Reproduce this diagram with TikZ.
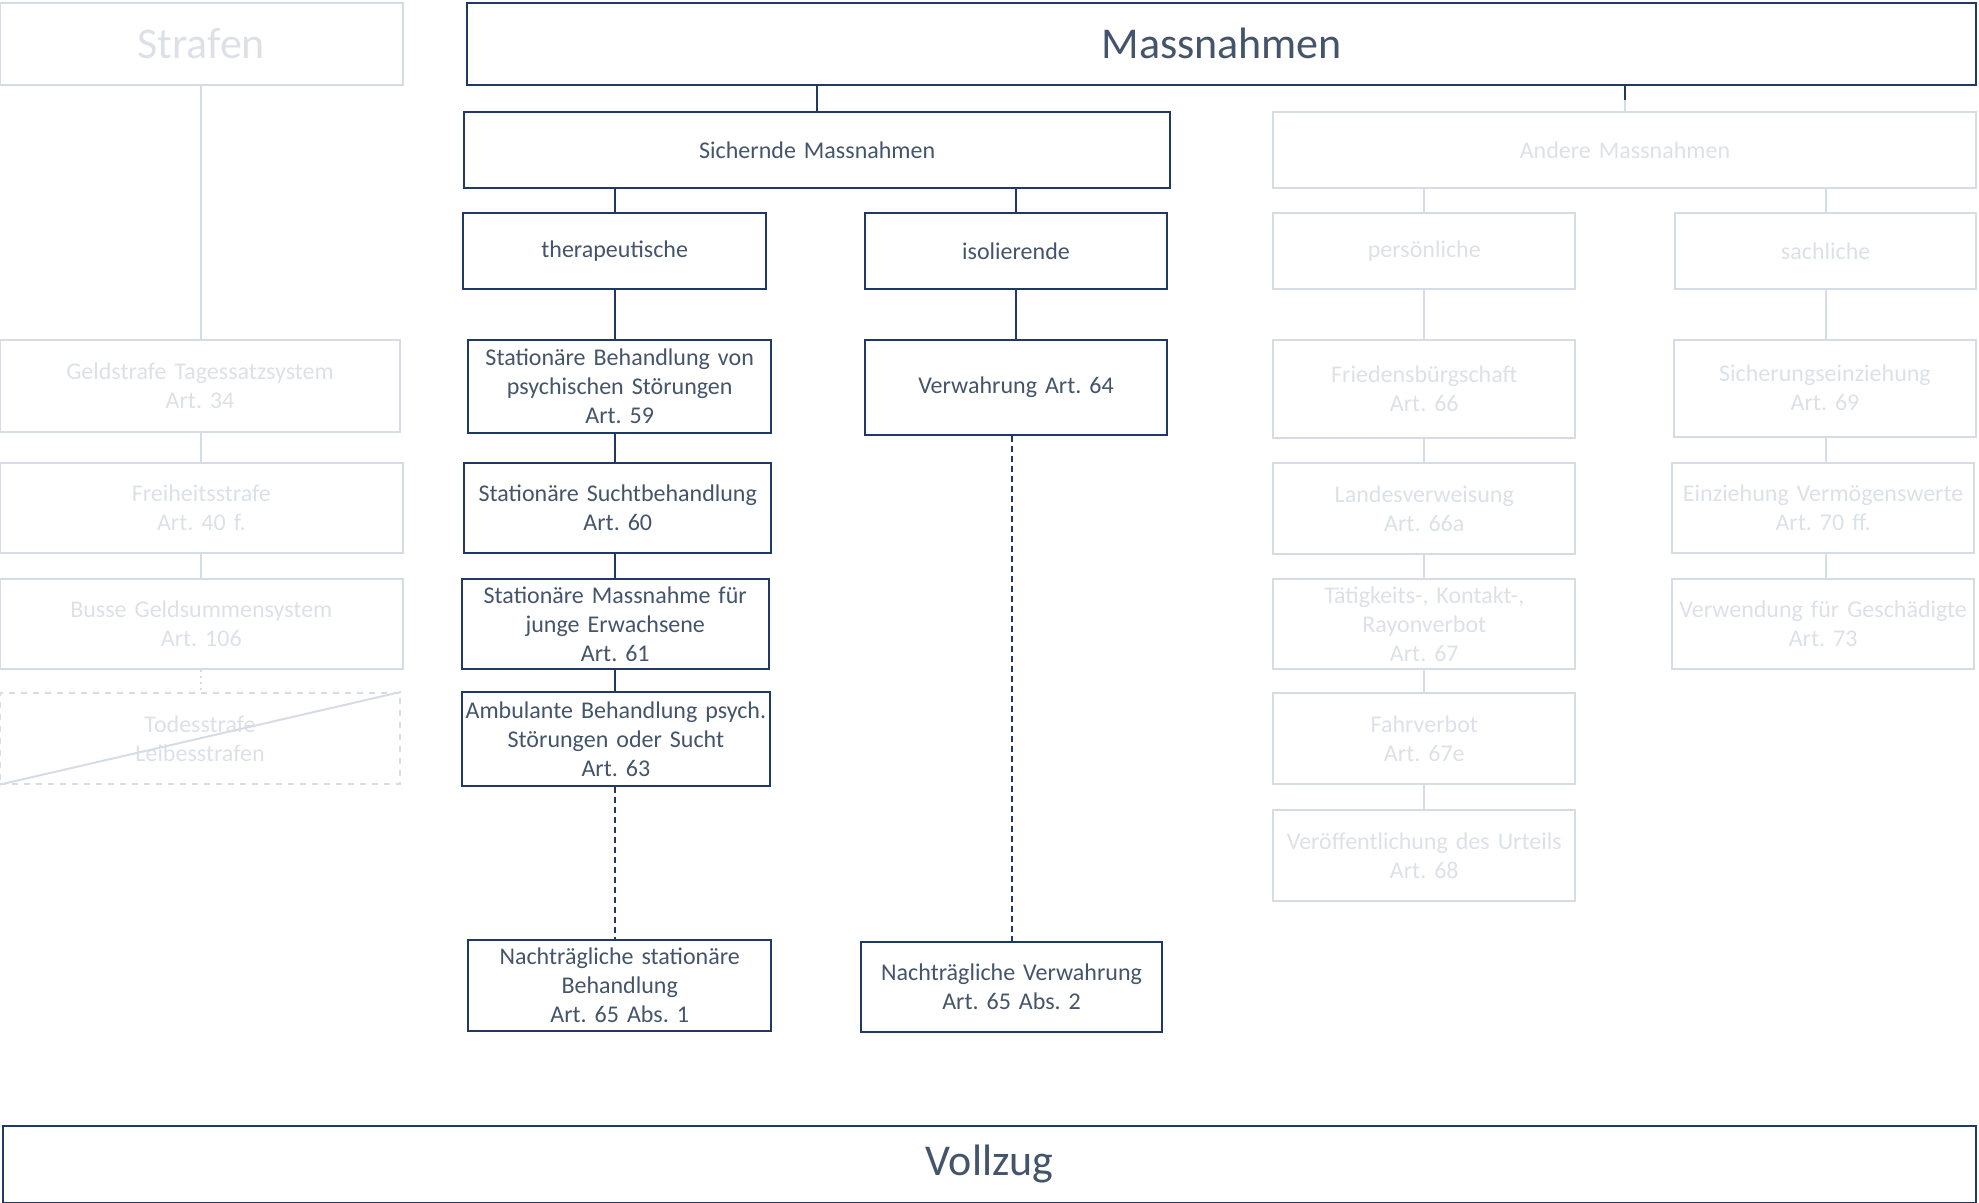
\documentclass[tikz,border=0pt]{standalone}
\usepackage{fontspec}
\setmainfont{Carlito}
\frenchspacing
\definecolor{navy}{HTML}{1F3864}
\definecolor{slate}{HTML}{44546A}
\definecolor{mist}{HTML}{D6DCE5}
\definecolor{fog}{HTML}{DCE1E8}
\newdimen\pxu \pxu=0.631pt
\begin{document}
\begin{tikzpicture}[x=0.631pt,y=-0.631pt,
  box/.style={draw, line width=1pt, inner sep=0pt, align=center, font=\fontsize{12}{14.5}\selectfont},
  dark/.style={box, draw=navy, text=slate},
  pale/.style={box, draw=mist, text=fog},
  big/.style={font=\fontsize{22}{26}\selectfont},
  wh/.style 2 args={text width=#1\pxu, minimum height=#2\pxu},
  link/.style={navy, line width=1pt},
  dashlink/.style={link, dash pattern=on 3pt off 2pt},
  palelink/.style={mist, line width=1pt}]
\useasboundingbox (0,0) rectangle (1568,953);

\node[pale,big,wh={319}{65}] (straf) at (159.5,34.5) {Strafen};
\node[dark,big,wh={1196}{65}] (mass) at (968,34.5) {Massnahmen};
\node[dark,wh={559}{60}] (sich) at (647.5,119) {Sichernde Massnahmen};
\node[pale,wh={557}{60}] (andere) at (1287.5,119) {Andere Massnahmen};

\node[dark,wh={240}{60}] (ther) at (487,199) {therapeutische};
\node[dark,wh={240}{60}] (iso) at (805,199) {isolierende};
\node[pale,wh={239}{60}] (pers) at (1128.5,199) {persönliche};
\node[pale,wh={239}{60}] (sach) at (1446.5,199) {sachliche};

\node[dark,wh={240}{74}] (s59) at (491,306) {Stationäre Behandlung von\\psychischen Störungen\\Art. 59};
\node[dark,wh={243}{71}] (s60) at (489.5,402.5) {Stationäre Suchtbehandlung\\Art. 60};
\node[dark,wh={243}{71}] (s61) at (487.5,494.5) {Stationäre Massnahme für\\junge Erwachsene\\Art. 61};
\node[dark,wh={244}{75}] (s63) at (488,585.5) {Ambulante Behandlung psych.\\Störungen oder Sucht\\Art. 63};
\node[dark,wh={240}{72}] (s65a) at (491,781) {Nachträgliche stationäre\\Behandlung\\Art. 65 Abs. 1};
\node[dark,wh={240}{76}] (s64) at (805,307) {Verwahrung Art. 64};
\node[dark,wh={239}{72}] (s65b) at (801.5,782) {Nachträgliche Verwahrung\\Art. 65 Abs. 2};

\node[pale,wh={317}{73}] (geld) at (158.5,305.5) {Geldstrafe Tagessatzsystem\\Art. 34};
\node[pale,wh={319}{71}] (frei) at (159.5,402.5) {Freiheitsstrafe\\Art. 40 f.};
\node[pale,wh={319}{71}] (busse) at (159.5,494.5) {Busse Geldsummensystem\\Art. 106};
\node[pale,wh={317}{72},dashed] (todes) at (158.5,585) {Todesstrafe\\Leibesstrafen};

\node[pale,wh={239}{78}] (fried) at (1128.5,308) {Friedensbürgschaft\\Art. 66};
\node[pale,wh={239}{72}] (landes) at (1128.5,403) {Landesverweisung\\Art. 66a};
\node[pale,wh={239}{71}] (taet) at (1128.5,494.5) {Tätigkeits-, Kontakt-,\\Rayonverbot\\Art. 67};
\node[pale,wh={239}{72}] (fahr) at (1128.5,585) {Fahrverbot\\Art. 67e};
\node[pale,wh={239}{72}] (veroeff) at (1128.5,678) {Veröffentlichung des Urteils\\Art. 68};
\node[pale,wh={240}{77}] (sicher) at (1446,307.5) {Sicherungseinziehung\\Art. 69};
\node[pale,wh={239}{71}] (einz) at (1444.5,402.5) {Einziehung Vermögenswerte\\Art. 70 ff.};
\node[pale,wh={239}{71}] (verw) at (1444.5,494.5) {Verwendung für Geschädigte\\Art. 73};

\node[dark,big,wh={1564}{61}] (vollzug) at (784,922.5) {Vollzug};

\draw[link] (sich.north) -- (sich.north |- mass.south);
\coordinate (brk) at (1287.5,79);
\draw[link] (brk |- mass.south) -- (brk);
\draw[palelink] (brk) -- (andere.north);
\draw[link] (ther.north) -- (ther.north |- sich.south);
\draw[link] (iso.north) -- (iso.north |- sich.south);
\draw[link] (ther.south) -- (ther.south |- s59.north);
\draw[link] (ther.south |- s59.south) -- (ther.south |- s60.north);
\draw[link] (ther.south |- s60.south) -- (ther.south |- s61.north);
\draw[link] (ther.south |- s61.south) -- (ther.south |- s63.north);
\draw[dashlink] (ther.south |- s63.south) -- (ther.south |- s65a.north);
\draw[link] (iso.south) -- (iso.south |- s64.north);
\draw[dashlink] (s65b.north |- s64.south) -- (s65b.north);

\draw[palelink] (straf.south) -- (straf.south |- geld.north);
\draw[palelink] (straf.south |- geld.south) -- (straf.south |- frei.north);
\draw[palelink] (straf.south |- frei.south) -- (straf.south |- busse.north);
\draw[palelink,dotted] (straf.south |- busse.south) -- (straf.south |- todes.north);
\draw[palelink] (todes.south west) -- (todes.north east);

\draw[palelink] (pers.north) -- (pers.north |- andere.south);
\draw[palelink] (sach.north) -- (sach.north |- andere.south);
\draw[palelink] (pers.south) -- (fried.north);
\draw[palelink] (fried.south) -- (landes.north);
\draw[palelink] (landes.south) -- (taet.north);
\draw[palelink] (taet.south) -- (fahr.north);
\draw[palelink] (fahr.south) -- (veroeff.north);
\draw[palelink] (sach.south) -- (sach.south |- sicher.north);
\draw[palelink] (sach.south |- sicher.south) -- (sach.south |- einz.north);
\draw[palelink] (sach.south |- einz.south) -- (sach.south |- verw.north);

\end{tikzpicture}
\end{document}
